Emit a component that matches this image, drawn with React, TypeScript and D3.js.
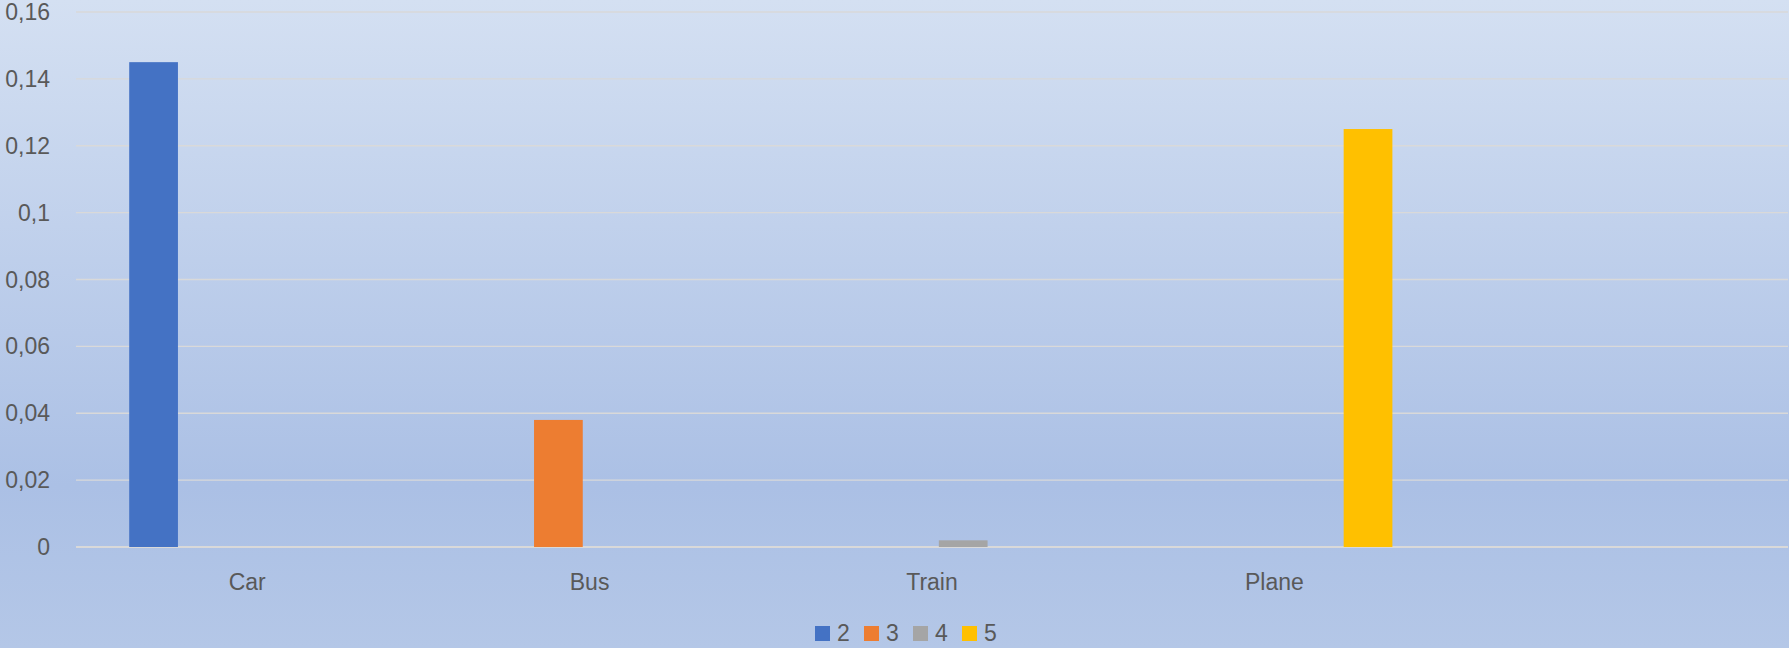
import React from "react";
import * as d3 from "d3";

const categories = ["Car", "Bus", "Train", "Plane", ""];
const seriesNames = ["2", "3", "4", "5"];
const seriesColors = ["#4472C4", "#ED7D31", "#A5A5A5", "#FFC000"];
// values[series][category]
const series2 = [0.145, 0, 0, 0, 0];
const series3 = [0, 0.038, 0, 0, 0];
const series4 = [0, 0, 0.002, 0, 0];
const series5 = [0, 0, 0, 0.125, 0];
const yTicks = [0, 0.02, 0.04, 0.06, 0.08, 0.1, 0.12, 0.14, 0.16];

const W = 1789;
const H = 648;
const FONT = "'Liberation Sans', Arial, sans-serif";

export default function App() {
  const values = [series2, series3, series4, series5];
  const left = 76, right = 1788, top = 12, bottom = 547;
  const x0 = d3.scaleBand<string>().domain(categories.map((c, i) => String(i))).range([left, right]).paddingInner(0).paddingOuter(0);
  const y = d3.scaleLinear().domain([0, 0.16]).range([bottom, top]);
  const bw = x0.bandwidth();
  const barW = bw * 0.1423;
  const pitch = barW * 1.281;
  const clusterW = barW + pitch * 3;
  const startOff = (bw - clusterW) / 2;
  const fmt = (v: number) => String(+v.toFixed(2)).replace(".", ",");

  const legendX0 = 815;
  const legendPitch = 49;

  return (
    <svg width={W} height={H} style={{ position: "absolute", left: 0, top: 0, display: "block" }} fontFamily={FONT}>
      <defs>
        <linearGradient id="bg" x1="0" y1="0" x2="0" y2="1">
          <stop offset="0" stopColor="#D4E0F2" />
          <stop offset="0.75" stopColor="#ABC0E5" />
          <stop offset="1" stopColor="#B4C7E7" />
        </linearGradient>
      </defs>
      <rect x={0} y={0} width={W} height={H} fill="url(#bg)" />
      {yTicks.map((t) => (
        <g key={t}>
          <line x1={left} x2={right} y1={y(t)} y2={y(t)} stroke="#D9D9D9" strokeWidth={t === 0 ? 2 : 1.3} />
          <text x={50} y={y(t)} dy="0.35em" textAnchor="end" fontSize={23} fill="#595959">{fmt(t)}</text>
        </g>
      ))}
      {values.map((vals, si) =>
        vals.map((v, ci) =>
          v > 0 ? (
            <rect key={`${si}-${ci}`} x={(x0(String(ci)) as number) + startOff + si * pitch} y={y(v)} width={barW} height={y(0) - y(v)} fill={seriesColors[si]} />
          ) : null
        )
      )}
      {categories.map((c, i) => (
        <text key={i} x={(x0(String(i)) as number) + bw / 2} y={590} textAnchor="middle" fontSize={23} fill="#595959">{c}</text>
      ))}
      {seriesNames.map((s, i) => (
        <g key={s}>
          <rect x={legendX0 + i * legendPitch} y={626} width={15} height={15} fill={seriesColors[i]} />
          <text x={legendX0 + i * legendPitch + 22} y={641} fontSize={23} fill="#595959">{s}</text>
        </g>
      ))}
    </svg>
  );
}
